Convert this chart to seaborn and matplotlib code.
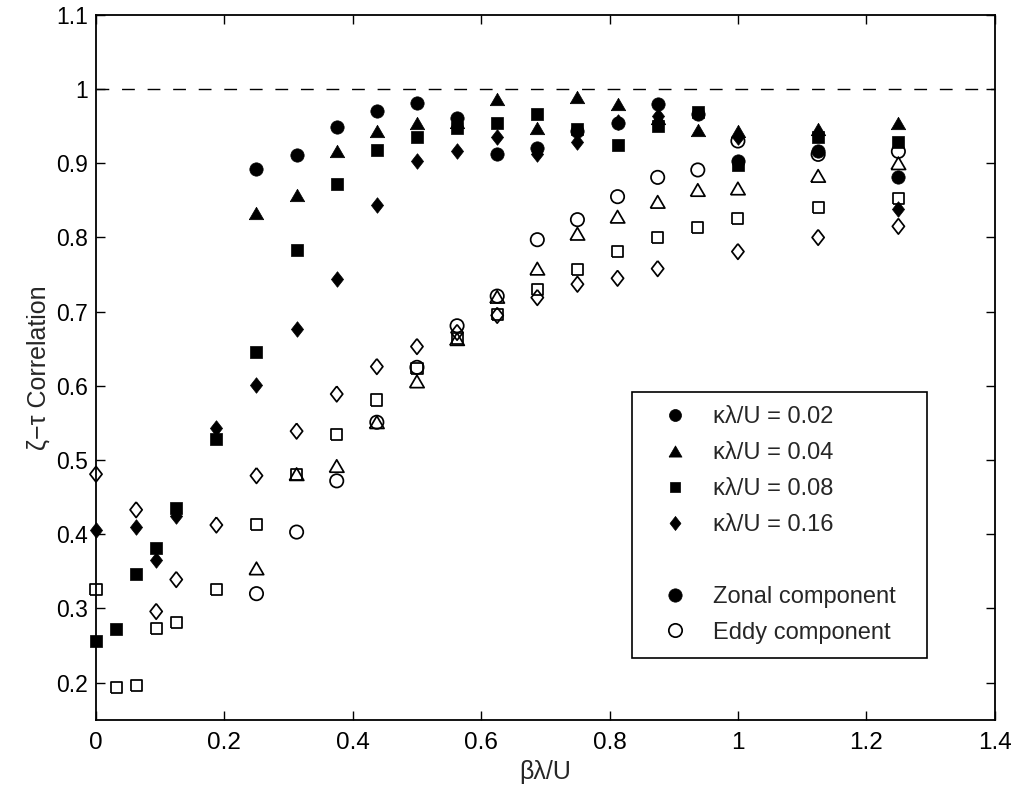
import numpy as np
import pandas as pd
import matplotlib
matplotlib.use("Agg")
import matplotlib.pyplot as plt
from matplotlib.lines import Line2D
import seaborn as sns

nan = np.nan

# beta*lambda/U values
beta_lambda = [0, 0.03125, 0.0625, 0.09375, 0.125, 0.1875, 0.25, 0.3125, 0.375, 0.4375,
               0.5, 0.5625, 0.625, 0.6875, 0.75, 0.8125, 0.875, 0.9375, 1.0, 1.125, 1.25]

kappa_labels = ["κλ/U = 0.02", "κλ/U = 0.04", "κλ/U = 0.08", "κλ/U = 0.16"]

# Zonal component (filled markers)
zonal_002 = [nan, nan, nan, nan, nan, nan, 0.892, 0.911, 0.949, 0.970,
             0.981, 0.961, 0.913, 0.920, 0.944, 0.954, 0.980, 0.966, 0.903, 0.917, 0.882]
zonal_004 = [nan, nan, nan, nan, nan, nan, 0.833, 0.857, 0.916, 0.944,
             0.954, 0.955, 0.986, 0.947, 0.989, 0.980, 0.961, 0.945, 0.944, 0.946, 0.954]
zonal_008 = [0.256, 0.273, 0.346, 0.381, 0.435, 0.528, 0.645, 0.783, 0.872, 0.918,
             0.935, 0.948, 0.954, 0.966, 0.946, 0.925, 0.950, 0.969, 0.897, 0.936, 0.928]
zonal_016 = [0.406, nan, 0.410, 0.365, 0.424, 0.543, 0.601, 0.676, 0.744, 0.844,
             0.903, 0.916, 0.936, 0.912, 0.928, 0.955, 0.964, nan, 0.936, 0.940, 0.839]

# Eddy component (open markers)
eddy_002 = [nan, nan, nan, nan, nan, nan, 0.320, 0.403, 0.472, 0.551,
            0.625, 0.681, 0.721, 0.797, 0.824, 0.855, 0.881, 0.891, 0.930, 0.912, 0.916]
eddy_004 = [nan, nan, nan, nan, nan, nan, 0.354, 0.481, 0.492, 0.551,
            0.606, 0.663, 0.720, 0.758, 0.805, 0.828, 0.848, 0.864, 0.866, 0.883, 0.900]
eddy_008 = [0.325, 0.194, 0.196, 0.273, 0.281, 0.326, 0.413, 0.480, 0.534, 0.581,
            0.624, 0.664, 0.696, 0.730, 0.757, 0.781, 0.800, 0.813, 0.825, 0.840, 0.853]
eddy_016 = [0.481, nan, 0.433, 0.296, 0.339, 0.4125, 0.479, 0.539, 0.589, 0.626,
            0.653, 0.672, 0.695, 0.719, 0.737, 0.745, 0.758, nan, 0.781, 0.800, 0.815]

x_ticks = [0, 0.2, 0.4, 0.6, 0.8, 1.0, 1.2, 1.4]
x_tick_labels = ["0", "0.2", "0.4", "0.6", "0.8", "1", "1.2", "1.4"]
y_ticks = [0.2, 0.3, 0.4, 0.5, 0.6, 0.7, 0.8, 0.9, 1.0, 1.1]
y_tick_labels = ["0.2", "0.3", "0.4", "0.5", "0.6", "0.7", "0.8", "0.9", "1", "1.1"]

sns.set_style("ticks")
plt.rcParams["font.family"] = ["Liberation Sans", "DejaVu Sans"]
narrow = ["Liberation Sans Narrow", "Liberation Sans", "DejaVu Sans"]

# marker shapes (MATLAB-like)
tri = [(-0.5, -0.43), (0.5, -0.43), (0.0, 0.43), (-0.5, -0.43)]
sq = [(-0.5, -0.5), (0.5, -0.5), (0.5, 0.5), (-0.5, 0.5), (-0.5, -0.5)]
dia = [(0.0, 0.5), (0.39, 0.0), (0.0, -0.5), (-0.39, 0.0), (0.0, 0.5)]
markers = ["o", tri, sq, dia]
msizes = [9.6, 10.4, 8.0, 11.2]  # points

fig = plt.figure(figsize=(10.16, 7.95), dpi=100)
ax = fig.add_axes([0.0945, 0.0946, 0.979 - 0.0945, 0.9813 - 0.0946])

ax.axhline(1.0, color="black", lw=1.0, dashes=(9.2, 9.2), zorder=1)

zonal = [zonal_002, zonal_004, zonal_008, zonal_016]
eddy = [eddy_002, eddy_004, eddy_008, eddy_016]

for k in range(4):
    df_e = pd.DataFrame({"x": beta_lambda, "y": eddy[k]}).dropna()
    sns.scatterplot(data=df_e, x="x", y="y", ax=ax, marker=markers[k], s=msizes[k] ** 2,
                    facecolor="none", edgecolor="black", linewidth=1.25, legend=False,
                    zorder=3, clip_on=False)
for k in range(4):
    df_z = pd.DataFrame({"x": beta_lambda, "y": zonal[k]}).dropna()
    sns.scatterplot(data=df_z, x="x", y="y", ax=ax, marker=markers[k], s=msizes[k] ** 2,
                    color="black", edgecolor="black", linewidth=0.5, legend=False,
                    zorder=4, clip_on=False)

ax.set_xlim(0, 1.4)
ax.set_ylim(0.15, 1.1)
ax.set_xticks(x_ticks)
ax.set_xticklabels(x_tick_labels, family=narrow, fontsize=17.5)
ax.set_yticks(y_ticks)
ax.set_yticklabels(y_tick_labels, fontsize=16.5)
ax.tick_params(direction="in", length=6.5, width=1.0, top=True, right=True,
               colors="black")
ax.tick_params(axis="x", pad=9)
ax.tick_params(axis="y", pad=6)
for sp in ax.spines.values():
    sp.set_visible(True)
    sp.set_color("black")
    sp.set_linewidth(1.3)

ax.set_xlabel("βλ/U", fontsize=18, family=narrow, labelpad=4)
ax.set_ylabel("ζ−τ Correlation", fontsize=18, family=narrow, labelpad=4)

handles = []
labels = []
for k in range(4):
    handles.append(Line2D([], [], linestyle="none", marker=markers[k], markersize=msizes[k] * 0.9,
                          markerfacecolor="black", markeredgecolor="black", markeredgewidth=0.5))
    labels.append(kappa_labels[k])
handles.append(Line2D([], [], linestyle="none", marker=None))
labels.append(" ")
handles.append(Line2D([], [], linestyle="none", marker="o", markersize=msizes[0],
                      markerfacecolor="black", markeredgecolor="black", markeredgewidth=0.5))
labels.append("Zonal component")
handles.append(Line2D([], [], linestyle="none", marker="o", markersize=msizes[0],
                      markerfacecolor="none", markeredgecolor="black", markeredgewidth=1.25))
labels.append("Eddy component")

x0, y0, x1, y1 = 632, 392, 927, 650
leg = ax.legend(handles, labels, loc="upper left",
                bbox_to_anchor=(x0 / 1016, 1 - y1 / 795, (x1 - x0) / 1016, (y1 - y0) / 795),
                bbox_transform=fig.transFigure, mode="expand", fontsize=17, frameon=True,
                fancybox=False, edgecolor="black", framealpha=1, borderpad=0.6,
                labelspacing=0.59, handlelength=2.44, handletextpad=0.39, borderaxespad=0)
leg.get_frame().set_linewidth(1.2)

fig.savefig("out.png", dpi=100)
